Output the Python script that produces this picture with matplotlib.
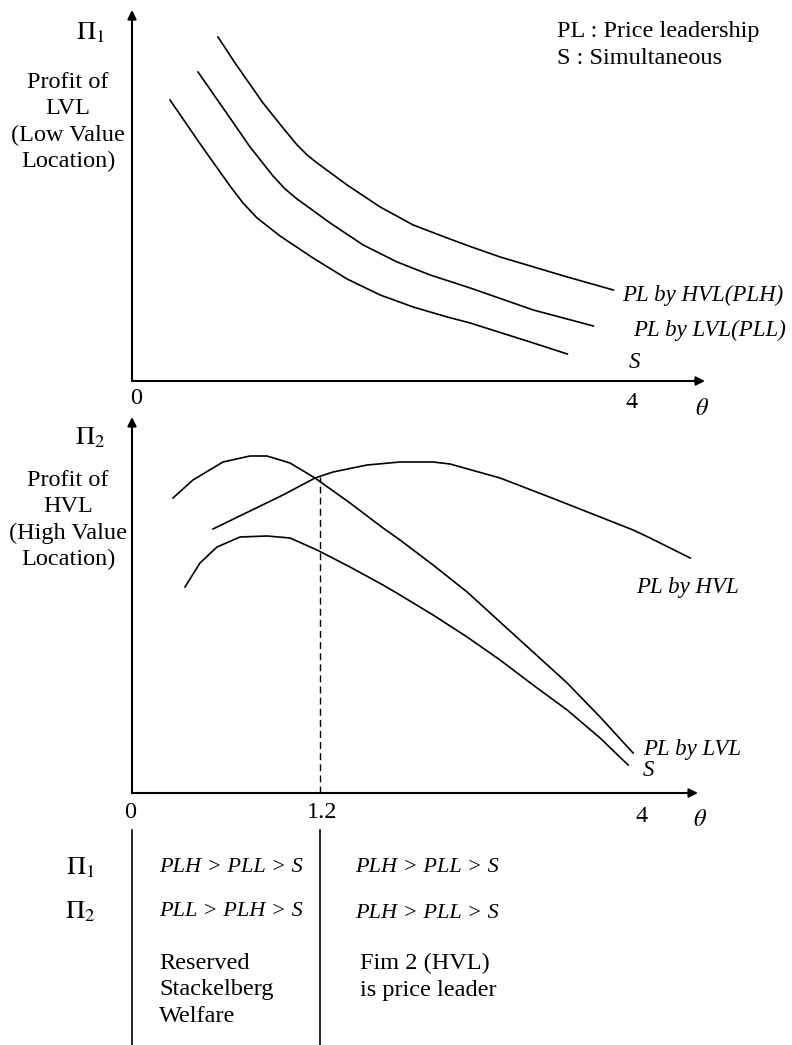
import numpy as np
import matplotlib
matplotlib.use("Agg")
import matplotlib.pyplot as plt
import matplotlib.transforms as mtransforms

# theta axis is schematic: 0..1.2 is stretched, 1.2..4 compressed
THETA_KNOTS = [-1.0, 0.0, 1.2, 4.0, 6.0]
POS_KNOTS = [-1.25, 0.0, 1.5, 4.0, 5.786]

# upper panel: profit of LVL (Pi_1)
top_plh_theta = [0.55, 0.659, 0.838, 0.966, 1.056, 1.12, 1.184, 1.446, 1.742, 2.038, 2.342, 2.548, 2.817, 3.418, 3.83]
top_plh_pi = [3.44, 3.18, 2.78, 2.53, 2.36, 2.26, 2.18, 1.96, 1.74, 1.56, 1.43, 1.345, 1.24, 1.04, 0.91]
top_pll_theta = [0.422, 0.627, 0.755, 0.902, 0.979, 1.056, 1.294, 1.59, 1.894, 2.19, 2.548, 3.113, 3.651]
top_pll_pi = [3.09, 2.63, 2.34, 2.05, 1.92, 1.82, 1.58, 1.36, 1.19, 1.06, 0.93, 0.71, 0.55]
top_s_theta = [0.243, 0.454, 0.627, 0.71, 0.80, 0.947, 1.158, 1.446, 1.742, 2.038, 2.342, 2.548, 3.113, 3.418]
top_s_pi = [2.81, 2.33, 1.95, 1.78, 1.63, 1.45, 1.23, 1.02, 0.86, 0.74, 0.64, 0.58, 0.38, 0.27]

# lower panel: profit of HVL (Pi_2)
bot_pll_theta = [0.262, 0.39, 0.582, 0.755, 0.864, 1.011, 1.171, 1.473, 1.769, 1.921, 2.217, 2.522,
                 2.817, 3.113, 3.418, 3.713, 4.009]
bot_pll_pi = [2.95, 3.13, 3.31, 3.37, 3.37, 3.30, 3.15, 2.90, 2.65, 2.53, 2.28, 2.01,
              1.71, 1.41, 1.10, 0.76, 0.40]
bot_plh_theta = [0.518, 0.755, 0.966, 1.171, 1.321, 1.626, 1.921, 2.217, 2.369, 2.817, 3.328, 4.009, 4.161, 4.52]
bot_plh_pi = [2.64, 2.82, 2.98, 3.15, 3.21, 3.28, 3.31, 3.31, 3.29, 3.15, 2.93, 2.63, 2.55, 2.35]
bot_s_theta = [0.339, 0.435, 0.544, 0.691, 0.864, 1.011, 1.184, 1.473, 1.769, 1.921, 2.217, 2.522,
               2.817, 3.113, 3.418, 3.713, 3.964]
bot_s_pi = [2.06, 2.30, 2.46, 2.56, 2.57, 2.55, 2.43, 2.26, 2.08, 1.98, 1.78, 1.56,
            1.33, 1.08, 0.83, 0.55, 0.28]

theta_cross = 1.2
pi_cross = 3.16

plt.rcParams['font.family'] = ['Liberation Serif', 'DejaVu Serif']
plt.rcParams['mathtext.fontset'] = 'stix'

W, H = 792, 1045
FS = 17.5
FS_IT = 16.5
LS = 1.32


def fwd(t):
    return np.interp(t, THETA_KNOTS, POS_KNOTS)


def inv(p):
    return np.interp(p, POS_KNOTS, THETA_KNOTS)


def px_rect(left, top, right, bottom):
    return [left / W, 1 - bottom / H, (right - left) / W, (bottom - top) / H]


def put(x, y, s, **kw):
    kw.setdefault('fontsize', FS)
    kw.setdefault('va', 'center')
    fig.text(x / W, 1 - y / H, s, **kw)


def put_it(x, y, s, size=FS_IT):
    put(x, y, s, ha='left', style='italic', fontsize=size)


def setup(ax, xmax, ymax):
    ax.set_xscale('function', functions=(fwd, inv))
    ax.set_xlim(0, xmax)
    ax.set_ylim(0, ymax)
    ax.axis('off')
    arrow = dict(arrowstyle='-|>', color='k', lw=1.5, mutation_scale=13, shrinkA=0, shrinkB=0)
    ax.annotate('', xy=(1, 0), xytext=(0, 0), xycoords='axes fraction', arrowprops=arrow)
    ax.annotate('', xy=(0, 1), xytext=(0, 0), xycoords='axes fraction', arrowprops=arrow)


fig = plt.figure(figsize=(W / 100, H / 100), dpi=100)
ax1 = fig.add_axes(px_rect(132, 10, 705, 381))
ax2 = fig.add_axes(px_rect(132, 417, 698, 793))
setup(ax1, 4.65, 3.71)
setup(ax2, 4.59, 3.76)

lw = 1.2
ax1.plot(top_plh_theta, top_plh_pi, color='k', lw=lw)
ax1.plot(top_pll_theta, top_pll_pi, color='k', lw=lw)
ax1.plot(top_s_theta, top_s_pi, color='k', lw=lw)

ax2.plot(bot_pll_theta, bot_pll_pi, color='k', lw=lw)
ax2.plot(bot_plh_theta, bot_plh_pi, color='k', lw=lw)
ax2.plot(bot_s_theta, bot_s_pi, color='k', lw=lw)
ax2.plot([theta_cross, theta_cross], [0, pi_cross], color='k', lw=1.0, ls=(0, (5, 3)))

# table dividers below the lower axis
blend = mtransforms.blended_transform_factory(ax2.transData, fig.transFigure)
for xv in [0, theta_cross]:
    ax2.plot([xv, xv], [0, 1 - 830 / H], transform=blend, color='k', lw=1.2, clip_on=False)

# upper panel text
put(90, 33, r'$\Pi_1$', ha='center', fontsize=19)
put(68, 122, 'Profit of\nLVL\n(Low Value\nLocation)', ha='center', linespacing=LS)
put(557, 45, 'PL : Price leadership\nS : Simultaneous', ha='left', linespacing=LS)
put_it(622, 295, 'PL by HVL(PLH)')
put_it(633, 330, 'PL by LVL(PLL)')
put_it(629, 362, 'S')
put(136, 399, '0', ha='center')
put(632, 403, '4', ha='center')
put(702, 409, r'$\theta$', ha='center')

# lower panel text
put(90, 438, r'$\Pi_2$', ha='center', fontsize=19)
put(68, 520, 'Profit of\nHVL\n(High Value\nLocation)', ha='center', linespacing=LS)
put_it(636, 588, 'PL by HVL')
put_it(643, 750, 'PL by LVL')
put_it(643, 770, 'S')
put(130, 812, '0', ha='center')
put(322, 812, '1.2', ha='center')
put(642, 817, '4', ha='center')
put(700, 821, r'$\theta$', ha='center')

# summary table
put(80, 868, r'$\Pi_1$', ha='center', fontsize=19)
put(80, 912, r'$\Pi_2$', ha='center', fontsize=19)
put_it(159, 867, 'PLH > PLL > S', size=16)
put_it(159, 911, 'PLL > PLH > S', size=16)
put_it(355, 867, 'PLH > PLL > S', size=16)
put_it(355, 914, 'PLH > PLL > S', size=16)
put(159, 990, 'Reserved\nStackelberg\nWelfare', ha='left', linespacing=LS)
put(360, 977, 'Fim 2 (HVL)\nis price leader', ha='left', linespacing=LS)

fig.savefig('out.png', dpi=100)
